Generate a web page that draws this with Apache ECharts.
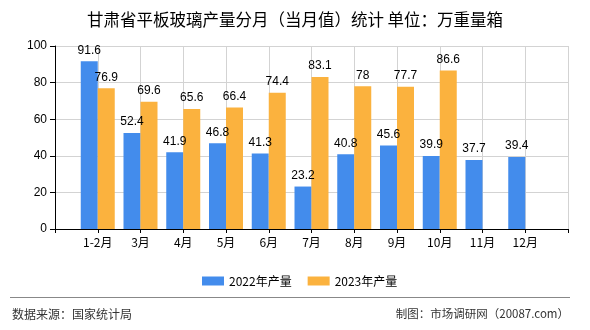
<!DOCTYPE html>
<html>
<head>
<meta charset="utf-8">
<script src="https://cdn.jsdelivr.net/npm/echarts@6/dist/echarts.min.js"></script>
<style>html,body{margin:0;padding:0;background:#fff;}#c{width:590px;height:330px;}</style>
</head>
<body>
<div id="c"></div>
<script>
var titleText = '甘肃省平板玻璃产量分月（当月值）统计 单位：万重量箱';
var months = ['1-2月','3月','4月','5月','6月','7月','8月','9月','10月','11月','12月'];
var seriesNames = ['2022年产量','2023年产量'];
var values2022 = [91.6, 52.4, 41.9, 46.8, 41.3, 23.2, 40.8, 45.6, 39.9, 37.7, 39.4];
var values2023 = [76.9, 69.6, 65.6, 66.4, 74.4, 83.1, 78, 77.7, 86.6, '-', '-'];
var yTicks = [0, 20, 40, 60, 80, 100];
var sourceText = '数据来源：国家统计局';
var creditText = '制图：市场调研网（20087.com）';

// pad with empty slots at both ends (axis ticks at category centres)
var cats = [''].concat(months, ['']);
var pad = function (a) { return ['-'].concat(a, ['-']); };

var chart = echarts.init(document.getElementById('c'), null, {renderer: 'canvas'});
var cjk = '"Noto Sans CJK SC", sans-serif';
var labelStyle = {
  show: true, position: 'top', distance: 5, color: '#000',
  fontSize: 12, fontFamily: '"Liberation Sans", sans-serif'
};
chart.setOption({
  animation: false,
  backgroundColor: '#fff',
  title: {
    text: titleText, left: 'center', top: 6,
    textStyle: {fontSize: 16.5, fontWeight: 'normal', color: '#000', fontFamily: cjk}
  },
  legend: {
    data: seriesNames, left: 197, top: 270,
    itemWidth: 22, itemHeight: 9, itemGap: 16, icon: 'rect',
    textStyle: {fontSize: 12, color: '#000', fontFamily: cjk}
  },
  grid: {left: 55, right: 22, top: 46, bottom: 101, containLabel: false},
  xAxis: {
    type: 'category', data: cats, boundaryGap: false,
    axisLine: {lineStyle: {color: '#000', width: 1}},
    axisTick: {show: true, length: 4, interval: 0, lineStyle: {color: '#000'}},
    axisLabel: {interval: 0, color: '#000', fontSize: 12, margin: 7, fontFamily: cjk},
    splitLine: {show: true, interval: 0, lineStyle: {color: '#d3d3d3', width: 1}}
  },
  yAxis: {
    type: 'value', min: yTicks[0], max: yTicks[yTicks.length - 1], interval: 20,
    axisLine: {show: true, lineStyle: {color: '#000', width: 1}},
    axisTick: {show: true, length: 5, lineStyle: {color: '#000'}},
    axisLabel: {color: '#000', fontSize: 12, margin: 8, fontFamily: '"Liberation Sans", sans-serif'},
    splitLine: {show: true, lineStyle: {color: '#d3d3d3', width: 1}}
  },
  series: [
    {name: seriesNames[0], type: 'bar', data: pad(values2022), barWidth: 17, barGap: '0%',
     itemStyle: {color: '#438CEC'}, label: labelStyle},
    {name: seriesNames[1], type: 'bar', data: pad(values2023), barWidth: 17, barGap: '0%',
     itemStyle: {color: '#FBB23E'}, label: labelStyle}
  ],
  graphic: [
    {type: 'line', shape: {x1: 10, y1: 297.5, x2: 570, y2: 297.5},
     style: {stroke: '#888', lineWidth: 1}},
    {type: 'text', left: 12, top: 308,
     style: {text: sourceText, fill: '#333', font: '12px "Noto Sans CJK SC", sans-serif'}},
    {type: 'text', right: 21, top: 308,
     style: {text: creditText, fill: '#333', font: '11.5px "Noto Sans CJK SC", sans-serif'}}
  ]
});
</script>
</body>
</html>
